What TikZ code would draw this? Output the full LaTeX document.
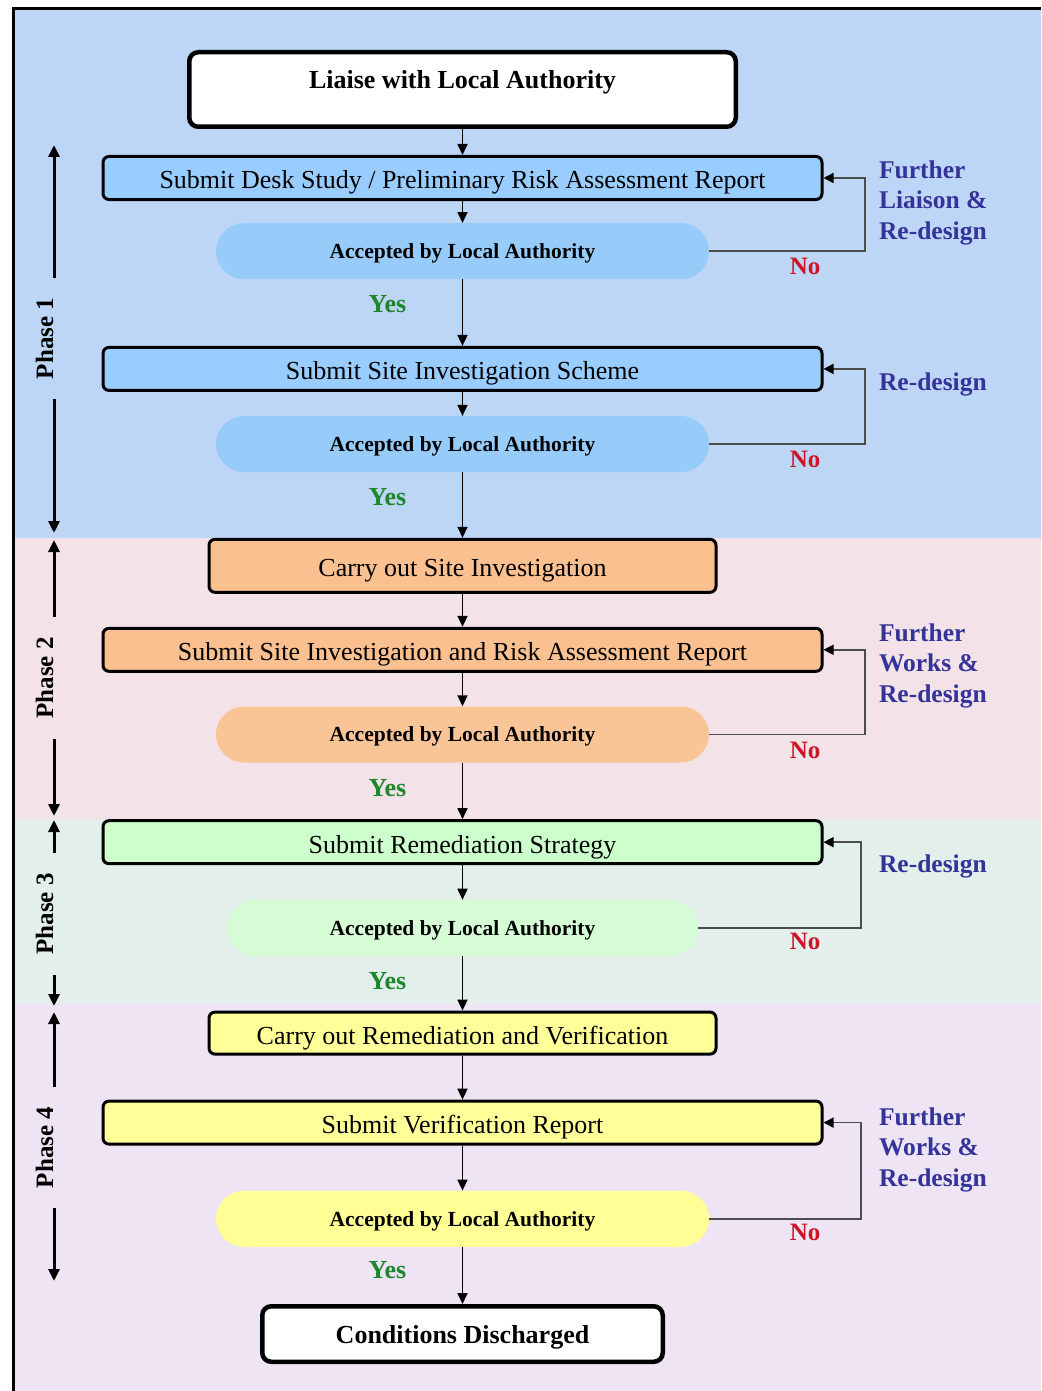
\documentclass[tikz,border=0pt]{standalone}
\usepackage{fontspec}
\setmainfont{Liberation Serif}
\usepackage{tikz}
\usetikzlibrary{arrows.meta,positioning}

\definecolor{bgone}{RGB}{190,214,246}
\definecolor{bgtwo}{RGB}{243,226,231}
\definecolor{bgthree}{RGB}{226,239,234}
\definecolor{bgfour}{RGB}{238,228,243}
\definecolor{boxblue}{RGB}{153,204,255}
\definecolor{ellblue}{RGB}{150,203,250}
\definecolor{boxorange}{RGB}{250,192,143}
\definecolor{ellorange}{RGB}{250,197,150}
\definecolor{boxgreen}{RGB}{204,255,204}
\definecolor{ellgreen}{RGB}{214,252,214}
\definecolor{boxyellow}{RGB}{255,255,153}
\definecolor{ellyellow}{RGB}{255,255,150}
\definecolor{yesgreen}{RGB}{30,135,45}
\definecolor{nored}{RGB}{205,20,40}
\definecolor{redoblue}{RGB}{51,51,153}

\begin{document}
\begin{tikzpicture}[
  x=1pt,y=-1pt,
  every node/.style={align=center},
  term/.style={draw,line width=4.5pt,rounded corners=9pt,fill=white,
               font=\fontsize{26}{30}\selectfont\bfseries},
  proc/.style={draw,line width=3pt,rounded corners=6pt,minimum width=719pt,
               minimum height=43pt,text height=22pt,text depth=0pt,
               font=\fontsize{26}{30}\selectfont},
  procmid/.style={proc,minimum width=507pt},
  accept/.style={rounded corners=28pt,minimum width=493pt,minimum height=56pt,
                 text depth=0pt,font=\fontsize{21.5}{25}\selectfont\bfseries},
  yeslbl/.style={text=yesgreen,font=\fontsize{26}{30}\selectfont\bfseries},
  nolbl/.style={text=nored,font=\fontsize{25}{30}\selectfont\bfseries},
  redo/.style={text=redoblue,anchor=west,align=left,
               font=\fontsize{25.5}{30.5}\selectfont\bfseries},
  phase/.style={rotate=90,inner xsep=20pt,font=\fontsize{25}{30}\selectfont\bfseries},
  arr/.style={-{Triangle[length=11pt,width=10pt]},line width=1.7pt},
  back/.style={-{Triangle[length=10pt,width=10pt,color=black]},line width=1.5pt,
               draw=black!70},
  phs/.style={-{Triangle[length=12pt,width=11pt]},line width=3pt}
]
\useasboundingbox (0,0) rectangle (1041,1391);

% Phase bands and frame.
\fill[bgone]   (15,10)   rectangle (1041,538);
\fill[bgtwo]   (15,538)  rectangle (1041,820);
\fill[bgthree] (15,820)  rectangle (1041,1003);
\fill[bgfour]  (15,1003) rectangle (1041,1391);
\draw[line width=3pt] (13.5,1391) -- (13.5,8.5) -- (1041,8.5);

% Main chain.
\node[term,minimum width=546.5pt,minimum height=74.5pt,text depth=20pt]
     (liaise) at (462.5,89.5) {Liaise with Local Authority};
\node[proc,fill=boxblue,below=26pt of liaise] (desk)
     {Submit Desk Study / Preliminary Risk Assessment Report};
\node[accept,fill=ellblue,below=22pt of desk] (acc1) {Accepted by Local Authority};
\node[proc,fill=boxblue,below=66.5pt of acc1] (sis) {Submit Site Investigation Scheme};
\node[accept,fill=ellblue,below=24pt of sis] (acc2) {Accepted by Local Authority};

\node[procmid,fill=boxorange,minimum height=53pt,below=65.5pt of acc2] (si)
     {Carry out Site Investigation};
\node[proc,fill=boxorange,below=33pt of si] (sira)
     {Submit Site Investigation and Risk Assessment Report};
\node[accept,fill=ellorange,below=33.5pt of sira] (acc3) {Accepted by Local Authority};

\node[proc,fill=boxgreen,below=56.5pt of acc3] (rs) {Submit Remediation Strategy};
\node[accept,fill=ellgreen,minimum width=471pt,below=34.5pt of rs] (acc4)
     {Accepted by Local Authority};

\node[procmid,fill=boxyellow,minimum height=42pt,below=54.5pt of acc4] (rv)
     {Carry out Remediation and Verification};
\node[proc,fill=boxyellow,below=44pt of rv] (vr) {Submit Verification Report};
\node[accept,fill=ellyellow,below=45pt of vr] (acc5) {Accepted by Local Authority};
\node[term,minimum width=400.5pt,minimum height=55.5pt,text depth=0pt,
      below=57pt of acc5] (done) {Conditions Discharged};

\draw[arr] (liaise) -- (desk);
\draw[arr] (desk) -- (acc1);
\draw[arr] (acc1) -- (sis);
\draw[arr] (sis) -- (acc2);
\draw[arr] (acc2) -- (si);
\draw[arr] (si) -- (sira);
\draw[arr] (sira) -- (acc3);
\draw[arr] (acc3) -- (rs);
\draw[arr] (rs) -- (acc4);
\draw[arr] (acc4) -- (rv);
\draw[arr] (rv) -- (vr);
\draw[arr] (vr) -- (acc5);
\draw[arr] (acc5) -- (done);

% Yes labels.
\node[yeslbl] (y1) at ([shift={(-75,25)}]acc1.south) {Yes};
\node[yeslbl] (y2) at ([shift={(-75,25)}]acc2.south) {Yes};
\node[yeslbl] (y3) at ([shift={(-75,25)}]acc3.south) {Yes};
\node[yeslbl] (y4) at ([shift={(-75,25)}]acc4.south) {Yes};
\node[yeslbl] (y5) at ([shift={(-75,23)}]acc5.south) {Yes};

% Rejection loops.
\draw[back] (acc1.east) -- ++(156,0) |- (desk.east);
\draw[back] (acc2.east) -- ++(156,0) |- (sis.east);
\draw[back] (acc3.east) -- ++(156,0) |- (sira.east);
\draw[back] (acc4.east) -- ++(163,0) |- (rs.east);
\draw[back] (acc5.east) -- ++(152,0) |- (vr.east);

\node[nolbl] (n1) at ([shift={(96,15)}]acc1.east) {No};
\node[nolbl] (n2) at ([shift={(96,15.5)}]acc2.east) {No};
\node[nolbl] (n3) at ([shift={(96,15.5)}]acc3.east) {No};
\node[nolbl] (n4) at ([shift={(107,13.5)}]acc4.east) {No};
\node[nolbl] (n5) at ([shift={(96,14)}]acc5.east) {No};

\node[redo] (r1) at ([shift={(52,24.5)}]desk.east) {Further\\Liaison \&\\Re-design};
\node[redo] (r2) at ([shift={(52,16)}]sis.east) {Re-design};
\node[redo] (r3) at ([shift={(52,16)}]sira.east) {Further\\Works \&\\Re-design};
\node[redo] (r4) at ([shift={(52,24.5)}]rs.east) {Re-design};
\node[redo] (r5) at ([shift={(52,27)}]vr.east) {Further\\Works \&\\Re-design};

% Phase markers.
\coordinate (p1up) at (54,145);  \coordinate (p1dn) at (54,533);
\coordinate (p2up) at (54,540);  \coordinate (p2dn) at (54,816);
\coordinate (p3up) at (54,820);  \coordinate (p3dn) at (54,1006);
\coordinate (p4up) at (54,1012); \coordinate (p4dn) at (54,1281);
\node[phase] (p1) at (44.5,338.5) {Phase 1};
\node[phase] (p2) at (44.5,678)   {Phase 2};
\node[phase] (p3) at (44.5,914)   {Phase 3};
\node[phase] (p4) at (44.5,1147.5) {Phase 4};
\draw[phs] (p1up |- p1.east) -- (p1up);
\draw[phs] (p1dn |- p1.west) -- (p1dn);
\draw[phs] (p2up |- p2.east) -- (p2up);
\draw[phs] (p2dn |- p2.west) -- (p2dn);
\draw[phs] (p3up |- p3.east) -- (p3up);
\draw[phs] (p3dn |- p3.west) -- (p3dn);
\draw[phs] (p4up |- p4.east) -- (p4up);
\draw[phs] (p4dn |- p4.west) -- (p4dn);
\end{tikzpicture}
\end{document}
